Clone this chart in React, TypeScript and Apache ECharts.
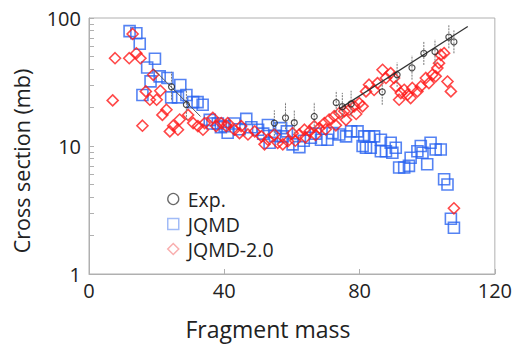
import React, { useEffect, useRef } from "react";
import * as echarts from "echarts";

const xTicks = [0, 40, 80, 120];
const yLabelValues = [1, 10, 100];
const yTickValues = [1, 2, 3, 4, 5, 6, 7, 8, 9, 10, 20, 30, 40, 50, 60, 70, 80, 90, 100];

const jqmd: number[][] = [
  [12, 79], [14, 76], [15, 63], [17.2, 41], [18.2, 32], [19.5, 48], [15.8, 25], [20.9, 35], [23.2, 34],
  [24.3, 24], [26.3, 24], [27, 30], [28.8, 25], [30.8, 22], [32.1, 22], [33.6, 21], [35.7, 16], [36.5, 15],
  [38.1, 15], [39, 14], [40.1, 14.3], [41, 12.7], [43, 15], [44.5, 13.5], [46.5, 16.3], [48, 14], [50, 13.4],
  [51.5, 12.5], [52.9, 14.6], [53.4, 10.6], [55, 12], [56.8, 13.8], [57.3, 11.9], [58.5, 13], [60.2, 10.3],
  [62.2, 9.8], [63.5, 11], [65.6, 11.6], [67, 12.5], [68.6, 11.2], [70.5, 11.2], [72, 12.6], [74, 12.3],
  [76, 11.9], [77.5, 13], [79.4, 13], [80.9, 10], [81.4, 11.9], [82.8, 11.9], [84.3, 11.9], [81.9, 9.7],
  [83.3, 9.7], [86.3, 11.2], [86.3, 9.1], [87.8, 9.1], [89.2, 10.6], [90.7, 9.7], [89.7, 8.85], [91.7, 6.8],
  [93.2, 6.8], [94.6, 7], [95.1, 8.1], [97.1, 9.1], [98.1, 10], [98.6, 8.85], [100, 7.2], [101, 10.6],
  [102.5, 9.4], [104, 9.4], [105, 5.5], [106, 5], [107, 2.7], [107.9, 2.3]
];

const jqmd2: number[][] = [
  [7, 22.7], [7.7, 48.5], [11.9, 48.5], [12.9, 75], [14, 53], [15.2, 48.5], [15.8, 14.4], [16.8, 26.7],
  [18, 23], [19, 36], [20, 23], [21.1, 27], [21.7, 17.5], [22.9, 19.2], [23.9, 13], [24.9, 14.4],
  [26.3, 13.4], [26.8, 16.1], [29.3, 17.5], [30.8, 15.1], [32.2, 14.3], [33.7, 13.4], [34.2, 15.1],
  [36.6, 16.6], [37.6, 14.3], [39.1, 15.1], [40.6, 14.3], [41, 15.1], [43, 13.4], [44.5, 12.6], [45, 14.3],
  [47, 12.3], [49, 13], [51, 11.9], [51.9, 10.3], [52.9, 11.2], [54.8, 12.3], [55.8, 10.6], [57.3, 10.3],
  [58.8, 10.9], [60.2, 12.6], [61, 11], [62.2, 12.3], [63.7, 13.4], [64, 11.7], [65.2, 13], [66.6, 14.3],
  [67, 12.2], [68.1, 13.8], [69.6, 15.1], [70, 13.5], [71, 16.1], [72.5, 17.1], [73, 14.5], [74, 18.1],
  [75.5, 18.7], [76, 16], [76.9, 19.2], [78.4, 20.4], [79, 17.8], [79.9, 21.6], [80.9, 20.4], [81.9, 26.7],
  [82.8, 30.1], [84.3, 27.4], [85.3, 31], [86.8, 39.4], [87.8, 34], [89.2, 37.1], [90.2, 34], [90.7, 29.2],
  [91.7, 23], [92.2, 25.9], [93.2, 27.5], [94.2, 25.2], [95.1, 23.7], [95.6, 28.4], [97.1, 26.7],
  [98.1, 29.2], [99.6, 34], [100.5, 31], [101.5, 36], [102.5, 35], [103, 40.6], [103.5, 44.4], [104, 51.5],
  [105, 53.1], [106, 31.9], [107, 26.7], [107.9, 3.26]
];

const expMass = [24.4, 28.8, 54.8, 58.1, 60.7, 66.6, 73.1, 74.9, 77.5, 86.7, 91.1, 95.5, 99, 102.3, 106.4, 107.9];
const expValue = [29, 21, 15.1, 16.6, 15.2, 17, 21.8, 20.3, 21.3, 26.5, 36, 40.8, 53, 54.5, 71, 65];
const expLow = [23, 16, 12, 13.5, 12.5, 13.5, 17.5, 16.5, 17, 21, 29, 33, 43, 44, 58, 53];
const expHigh = [38, 28, 19, 22, 19, 22, 27, 26, 27, 33, 45, 51, 66, 68, 88, 80];

const fitRight: number[][] = [[74, 19.5], [112, 86]];
const fitLeft: number[][] = [[19, 40], [33, 17]];

const FONT = "Open Sans";

export default function App() {
  const ref = useRef<HTMLDivElement>(null);
  useEffect(() => {
    const chart = echarts.init(ref.current!, null, { renderer: "svg" });
    const expPts = expMass.map((m, i) => [m, expValue[i]]);
    const errPts = expMass.map((m, i) => [m, expLow[i], expHigh[i]]);
    chart.setOption({
      animation: false,
      backgroundColor: "#fff",
      grid: { left: 89, top: 18, right: 19, bottom: 70, show: true, borderColor: "#b0b0b0", borderWidth: 1 },
      legend: {
        orient: "vertical",
        left: 162,
        top: 184,
        itemGap: 5,
        itemWidth: 11,
        itemHeight: 11,
        data: [
          { name: "Exp.", itemStyle: { borderColor: "#444", borderWidth: 1.3 } },
          { name: "JQMD", itemStyle: { borderColor: "#8aaaf5", borderWidth: 1.5 } },
          { name: "JQMD-2.0", itemStyle: { borderColor: "#f79a9a", borderWidth: 1.5 } },
        ],
        textStyle: { fontFamily: FONT, fontSize: 19.5, lineHeight: 18, color: "#222", padding: [0, 0, 0, 4] },
      },
      xAxis: {
        type: "value",
        min: 0,
        max: 120,
        interval: 40,
        axisLine: { lineStyle: { color: "#b0b0b0" } },
        axisTick: { inside: true, length: 5, lineStyle: { color: "#b0b0b0" } },
        axisLabel: { fontFamily: FONT, fontSize: 20, color: "#222", margin: 6, customValues: xTicks },
        splitLine: { show: false },
        name: "Fragment mass",
        nameLocation: "middle",
        nameGap: 43,
        nameTextStyle: { fontFamily: FONT, fontSize: 23, color: "#222", padding: [0, 48, 0, 0] },
      },
      yAxis: {
        type: "log",
        logBase: 10,
        min: 1,
        max: 100,
        axisLine: { show: true, lineStyle: { color: "#b0b0b0" } },
        axisTick: { show: true, inside: true, length: 5, lineStyle: { color: "#b0b0b0" }, customValues: yTickValues },
        axisLabel: { fontFamily: FONT, fontSize: 20, color: "#222", margin: 8, customValues: yLabelValues },
        splitLine: { show: false },
        name: "Cross section (mb)",
        nameLocation: "middle",
        nameGap: 57,
        nameTextStyle: { fontFamily: FONT, fontSize: 21.5, color: "#222", padding: [0, 30, 0, 0] },
      },
      series: [
        {
          name: "JQMD",
          type: "scatter",
          symbol: "rect",
          symbolSize: 11,
          data: jqmd,
          itemStyle: { color: "rgba(255,255,255,0)", borderColor: "#2b64f0", borderWidth: 1.6 },
          z: 2,
        },
        {
          name: "JQMD-2.0",
          type: "scatter",
          symbol: "diamond",
          symbolSize: 11,
          data: jqmd2,
          itemStyle: { color: "rgba(255,255,255,0)", borderColor: "#ff1a1a", borderWidth: 1.6 },
          z: 3,
        },
        {
          name: "fitR",
          type: "line",
          data: fitRight,
          symbol: "none",
          lineStyle: { color: "#333", width: 1.2 },
          z: 4,
        },
        {
          name: "fitL",
          type: "line",
          data: fitLeft,
          symbol: "none",
          lineStyle: { color: "#555", width: 1 },
          z: 4,
        },
        {
          name: "err",
          type: "custom",
          data: errPts,
          z: 4,
          renderItem: (params: any, api: any) => {
            const p1 = api.coord([api.value(0), api.value(1)]);
            const p2 = api.coord([api.value(0), api.value(2)]);
            return {
              type: "line",
              shape: { x1: p1[0], y1: p1[1], x2: p2[0], y2: p2[1] },
              style: { stroke: "#777", lineWidth: 1, lineDash: [2, 1] },
            };
          },
        },
        {
          name: "Exp.",
          type: "scatter",
          symbol: "circle",
          symbolSize: 6,
          data: expPts,
          itemStyle: { color: "rgba(255,255,255,0)", borderColor: "#222", borderWidth: 1.2 },
          z: 5,
        },
      ],
    });
    return () => chart.dispose();
  }, []);
  return <div ref={ref} style={{ width: 515, height: 345, position: "absolute", left: 0, top: 0 }} />;
}
